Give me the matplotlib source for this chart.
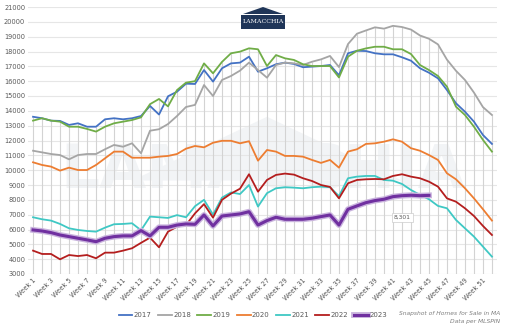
import numpy as np
import matplotlib
matplotlib.use("Agg")
import matplotlib.pyplot as plt
import matplotlib.patheffects as pe
from matplotlib.patches import Polygon

# weekly inventory snapshot, homes for sale in MA
weeks = list(range(1, 53))

y2017 = [13600, 13500, 13340, 13320, 13050, 13160, 12930, 12930, 13430, 13500,
         13430, 13500, 13650, 14330, 13750, 14980, 15290, 15830, 15810, 16750,
         15970, 16870, 17200, 17250, 17650, 16640, 16870, 17140, 17250, 17160,
         16940, 16980, 17020, 17090, 16400, 17880, 18050, 18030, 17880, 17810,
         17810, 17610, 17380, 16870, 16570, 16190, 15400, 14510, 13940, 13270,
         12370, 11770]
y2018 = [11310, 11200, 11090, 11020, 10730, 11020, 11090, 11090, 11410, 11700,
         11580, 11810, 11140, 12660, 12760, 13110, 13650, 14260, 14400, 15740,
         15000, 16080, 16350, 16710, 17250, 16750, 16235, 17090, 17250, 17200,
         17090, 17310, 17470, 17700, 16950, 18500, 19200, 19420, 19630, 19540,
         19730, 19650, 19480, 19080, 18860, 18480, 17450, 16700, 16080, 15230,
         14250, 13720]
y2019 = [13340, 13500, 13340, 13270, 12930, 12930, 12780, 12600, 12930, 13160,
         13270, 13380, 13560, 14450, 14800, 14300, 15400, 15900, 16000, 17200,
         16530, 17300, 17880, 17990, 18215, 18150, 17020, 17760, 17540, 17430,
         17140, 17020, 17020, 17020, 16250, 17650, 18050, 18210, 18320, 18320,
         18150, 18150, 17830, 17090, 16750, 16350, 15630, 14280, 13720, 12930,
         12040, 11250]
y2020 = [10530, 10350, 10240, 9970, 10170, 10010, 10010, 10350, 10800, 11250,
         11250, 10840, 10840, 10840, 10910, 10960, 11090, 11450, 11630, 11540,
         11850, 11980, 11980, 11810, 11950, 10640, 11360, 11250, 10960, 10960,
         10910, 10690, 10490, 10690, 10170, 11250, 11410, 11770, 11810, 11920,
         12080, 11920, 11480, 11310, 11020, 10690, 9790, 9385, 8780, 8100,
         7365, 6600]
y2021 = [6825, 6690, 6600, 6375, 6080, 5970, 5900, 5855, 6125, 6355,
         6375, 6420, 5950, 6870, 6825, 6780, 6970, 6825, 7570, 8000,
         7000, 8150, 8500, 8390, 9000, 7545, 8450, 8780, 8850, 8820,
         8780, 8850, 8890, 8850, 8250, 9455, 9565, 9610, 9610, 9340,
         9290, 9070, 8665, 8330, 8040, 7590, 7430, 6645, 6080, 5520,
         4845, 4170]
y2022 = [4575, 4350, 4350, 3990, 4280, 4210, 4280, 4060, 4440, 4440,
         4575, 4735, 5100, 5450, 4800, 5855, 6190, 6300, 7090, 7710,
         6800, 8000, 8420, 8750, 9725, 8550, 9340, 9680, 9770, 9700,
         9455, 9270, 9000, 8870, 8100, 9115, 9340, 9385, 9405, 9385,
         9610, 9725, 9565, 9455, 9225, 8890, 8100, 7875, 7430, 6910,
         6240, 5630]
y2023 = [5970, 5900, 5790, 5630, 5520, 5410, 5300, 5180, 5410, 5520,
         5570, 5570, 5925, 5570, 6150, 6150, 6300, 6375, 6350, 6980,
         6240, 6910, 6980, 7050, 7200, 6300, 6600, 6825, 6690, 6690,
         6690, 6760, 6870, 6980, 6300, 7365, 7590, 7810, 7950, 8040,
         8215, 8280, 8310, 8280, 8301]

series = {
    "2017": (y2017, "#4472C4"),
    "2018": (y2018, "#A5A5A5"),
    "2019": (y2019, "#70AD47"),
    "2020": (y2020, "#ED7D31"),
    "2021": (y2021, "#3FC8C4"),
    "2022": (y2022, "#B41E1E"),
    "2023": (y2023, "#7030A0"),
}

yticks = list(range(3000, 21001, 1000))
week_labels = [f"Week {w}" for w in weeks[::2]]

TXT = "#595959"

fig = plt.figure(figsize=(5.05, 3.28), dpi=100)
ax = fig.add_axes([28 / 505, 1 - 274 / 328, 469 / 505, 267 / 328])

# faint watermark
ax.add_patch(Polygon([[12, 9300], [27, 13600], [42, 9300]], closed=True,
                     facecolor="#f2f4f6", edgecolor="none", zorder=0))
ax.text(26.5, 9900, "LAMACCHIA", ha="center", va="center", fontsize=44,
        color="#f2f4f6", fontweight="bold", zorder=0)

# drop lines from highest value down to the axis
allvals = [y2017, y2018, y2019, y2020, y2021, y2022]
tops = [max(s[i] for s in allvals) for i in range(len(weeks))]
ax.vlines(weeks, 3000, tops, color="#d3d3d3", lw=0.8, zorder=1)

for name, (vals, col) in series.items():
    x = weeks[:len(vals)]
    if name == "2023":
        ax.plot(x, vals, color=col, lw=2.2, zorder=3, label=name,
                path_effects=[pe.Stroke(linewidth=4.2, foreground="#c9b3dd"),
                              pe.Normal()])
    else:
        ax.plot(x, vals, color=col, lw=1.3, zorder=2, label=name)

ax.annotate("8,301", xy=(weeks[len(y2023) - 1], y2023[-1]),
            xytext=(-19, -16), textcoords="offset points", fontsize=4.3,
            color=TXT, ha="center", va="center",
            bbox=dict(boxstyle="square,pad=0.35", fc="white", ec="#cccccc", lw=0.5))

ax.set_xlim(0.44, 52.56)
ax.set_ylim(3000, 21000)
ax.set_yticks(yticks)
ax.set_yticklabels([str(v) for v in yticks], fontsize=4.8, color=TXT)
ax.set_xticks(weeks[::2])
ax.set_xticklabels(week_labels, rotation=45, ha="right", va="top",
                   rotation_mode="anchor", fontsize=4.8, color=TXT)
ax.tick_params(length=0, pad=2)
ax.grid(axis="y", color="#e6e6e6", lw=0.8, zorder=0)
ax.set_axisbelow(True)
for sp in ax.spines.values():
    sp.set_visible(False)

leg = fig.legend(loc="center", bbox_to_anchor=(253 / 505, 1 - 315 / 328),
                 ncol=7, frameon=False, fontsize=5, handlelength=2.0,
                 handletextpad=0.2, columnspacing=0.9, borderaxespad=0)
for t in leg.get_texts():
    t.set_color(TXT)

fig.text(500 / 505, 1 - 313 / 328, "Snapshot of Homes for Sale in MA",
         ha="right", va="center", fontsize=4.3, style="italic", color="#7f7f7f")
fig.text(500 / 505, 1 - 321 / 328, "Data per MLSPIN",
         ha="right", va="center", fontsize=4.3, style="italic", color="#7f7f7f")

# small logo at the top: roof + navy box with white name
navy = "#1f3558"
fig.patches.append(Polygon([[243 / 505, 1 - 14 / 328], [263 / 505, 1 - 7 / 328],
                            [283 / 505, 1 - 14 / 328]], closed=True,
                           transform=fig.transFigure, fc=navy, ec="none"))
fig.patches.append(plt.Rectangle((241 / 505, 1 - 29 / 328), 44 / 505, 14 / 328,
                                 transform=fig.transFigure, fc=navy, ec="none"))
fig.text(263 / 505, 1 - 21.5 / 328, "LAMACCHIA", ha="center", va="center",
         fontsize=4.5, color="white", family="DejaVu Serif")

fig.savefig("out.png", dpi=100, facecolor="white")
